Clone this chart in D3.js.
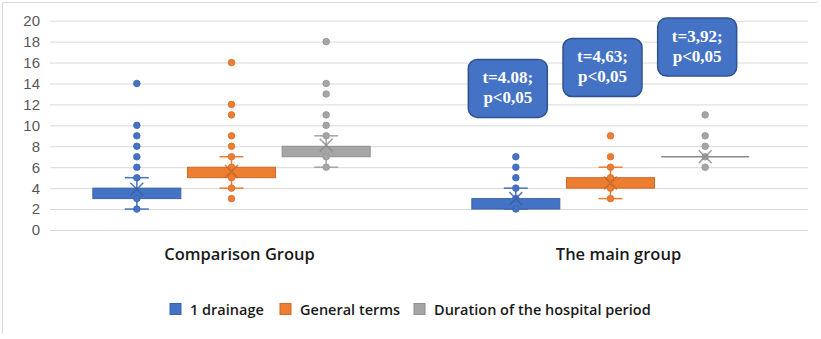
<!DOCTYPE html>
<html>
<head>
<meta charset="utf-8">
<script src="https://cdn.jsdelivr.net/npm/d3@7"></script>
<style>
  html, body { margin: 0; padding: 0; background: #fff; }
  #chart { width: 821px; height: 339px; }
</style>
</head>
<body>
<div id="chart"></div>
<script>
// ── Box & whisker: 1 drainage / General terms / Hospital period ─────
const categories  = ["Comparison Group", "The main group"];
const seriesNames = ["1 drainage", "General terms", "Duration of the hospital period"];
const seriesColors = ["#4472C4", "#ED7D31", "#A5A5A5"];
const yTicks = [0, 2, 4, 6, 8, 10, 12, 14, 16, 18, 20];

// per category -> per series
const boxLow      = [[3, 5, 7], [2, 4, 7]];
const boxHigh     = [[4, 6, 8], [3, 5, 7]];
const whiskerLow  = [[2, 4, 6], [2, 3, 7]];
const whiskerHigh = [[5, 7, 9], [4, 6, 7]];
const means       = [[3.9, 5.6, 8.1], [3.0, 4.5, 7.0]];
const points = [
    [[2, 3, 5, 6, 7, 8, 9, 10, 14], [3, 4, 5, 6, 7, 8, 9, 11, 12, 16], [6, 7, 9, 10, 11, 13, 14, 18]],
    [[2, 3, 4, 5, 6, 7], [3, 4, 5, 6, 7, 9], [6, 7, 8, 9, 11]]
];

// t-test callouts over the main group (series index, top value, lines)
const noteSeries = [0, 1, 2];
const noteTop    = [16.3, 18.3, 20.25];
const noteLines  = [["t=4.08;", "p<0,05"], ["t=4,63;", "p<0,05"], ["t=3,92;", "p<0,05"]];

const width = 821, height = 339;
const svg = d3.select("#chart").append("svg")
    .attr("width", width).attr("height", height);

// outer frame (top + left visible)
svg.append("path").attr("d", "M2.5,334 V2.5 H817")
    .attr("fill", "none").attr("stroke", "#d9d9d9");

const plotL = 50, plotR = 808, plotT = 20.7, plotB = 230;

const y = d3.scaleLinear().domain([0, 20]).range([plotB, plotT]);
const x0 = d3.scaleBand().domain(categories).range([plotL, plotR]);
const x1 = d3.scaleBand().domain(seriesNames).range([-150, 134]);
const sx = (ci, si) => x0(categories[ci]) + x0.bandwidth() / 2 + x1(seriesNames[si]) + x1.bandwidth() / 2;

// Gridlines
svg.append("g").attr("transform", `translate(${plotL},0)`)
    .call(d3.axisLeft(y).tickValues(yTicks).tickSize(-(plotR - plotL)).tickFormat(""))
    .call(g => g.select(".domain").remove())
    .selectAll("line").attr("stroke", "#d9d9d9");

// Y labels
svg.append("g").selectAll("text").data(yTicks).join("text")
    .attr("x", 40).attr("y", d => y(d)).attr("dy", "0.36em")
    .attr("text-anchor", "end")
    .style("font-family", "'Liberation Sans', Arial, sans-serif")
    .style("font-size", "15px").style("fill", "#595959")
    .text(d => d);

const boxW = 88, capW = 24;

categories.forEach((c, ci) => {
    seriesNames.forEach((s, si) => {
        const cx = sx(ci, si);
        const col = seriesColors[si];
        const g = svg.append("g");

        // whiskers
        g.append("line").attr("x1", cx).attr("x2", cx)
            .attr("y1", y(whiskerLow[ci][si])).attr("y2", y(boxLow[ci][si]))
            .attr("stroke", col).attr("stroke-width", 1.5);
        g.append("line").attr("x1", cx).attr("x2", cx)
            .attr("y1", y(boxHigh[ci][si])).attr("y2", y(whiskerHigh[ci][si]))
            .attr("stroke", col).attr("stroke-width", 1.5);
        [whiskerLow[ci][si], whiskerHigh[ci][si]].forEach(v => {
            if (v === boxLow[ci][si] && v === boxHigh[ci][si]) return;
            g.append("line").attr("x1", cx - capW / 2).attr("x2", cx + capW / 2)
                .attr("y1", y(v)).attr("y2", y(v))
                .attr("stroke", col).attr("stroke-width", 1.5);
        });

        // box
        const bh = y(boxLow[ci][si]) - y(boxHigh[ci][si]);
        if (bh > 0) {
            g.append("rect").attr("x", cx - boxW / 2).attr("y", y(boxHigh[ci][si]))
                .attr("width", boxW).attr("height", bh)
                .attr("fill", col).attr("stroke", d3.color(col).darker(0.4)).attr("stroke-width", 1);
        } else {
            g.append("line").attr("x1", cx - boxW / 2).attr("x2", cx + boxW / 2)
                .attr("y1", y(boxLow[ci][si])).attr("y2", y(boxLow[ci][si]))
                .attr("stroke", d3.color(col).darker(0.5)).attr("stroke-width", 1.5);
        }

        // points
        g.selectAll("circle").data(points[ci][si]).join("circle")
            .attr("cx", cx).attr("cy", d => y(d)).attr("r", 3.3)
            .attr("fill", col).attr("stroke", d3.color(col).darker(0.3)).attr("stroke-width", 0.8);

        // mean marker
        g.append("path")
            .attr("transform", `translate(${cx},${y(means[ci][si])})`)
            .attr("d", d3.symbol(d3.symbolX, 110)())
            .attr("fill", "none")
            .attr("stroke", d3.color(col).darker(0.5)).attr("stroke-width", 1.6)
            .attr("opacity", 0.8);
    });

    // category label
    svg.append("text")
        .attr("x", x0(c) + x0.bandwidth() / 2).attr("y", 260)
        .attr("text-anchor", "middle")
        .style("font-family", "'Open Sans', sans-serif").style("font-weight", 600)
        .style("font-size", "16.5px").style("fill", "#1a1a1a")
        .text(c);
});

// Callouts
const noteW = 79, noteH = 58;
noteSeries.forEach((si, i) => {
    const cx = sx(1, si) - 8;
    const top = y(noteTop[i]);
    const g = svg.append("g");
    g.append("rect").attr("x", cx - noteW / 2).attr("y", top)
        .attr("width", noteW).attr("height", noteH).attr("rx", 9)
        .attr("fill", "#4472C4").attr("stroke", "#2F528F").attr("stroke-width", 1.5);
    noteLines[i].forEach((t, li) => {
        g.append("text").attr("x", cx).attr("y", top + 24 + li * 20)
            .attr("text-anchor", "middle")
            .style("font-family", "'Liberation Serif', 'Times New Roman', serif")
            .style("font-weight", "bold").style("font-size", "17px").style("fill", "#fff")
            .text(t);
    });
});

// Legend
const legendX = [170, 280, 414];
const legend = svg.append("g").attr("transform", "translate(0,303)");
seriesNames.forEach((s, i) => {
    legend.append("rect").attr("x", legendX[i]).attr("y", 0.5).attr("width", 11).attr("height", 11)
        .attr("fill", seriesColors[i]).attr("stroke", d3.color(seriesColors[i]).darker(0.4));
    legend.append("text").attr("x", legendX[i] + 20).attr("y", 11.5)
        .style("font-family", "'Open Sans', sans-serif").style("font-weight", 600)
        .style("font-size", "14.5px").style("fill", "#1a1a1a")
        .text(s);
});
</script>
</body>
</html>
